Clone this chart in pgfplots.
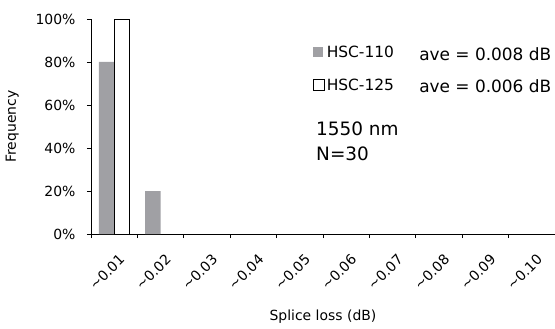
\documentclass[border=0pt]{standalone}
\usepackage{fontspec}
\setmainfont{DejaVu Sans}
\usepackage{pgfplots}
\pgfplotsset{compat=1.18}
\definecolor{barg}{RGB}{160,160,164}
\begin{document}
\begin{tikzpicture}
\begin{axis}[
  scale only axis, width=464bp, height=215bp,
  xmin=-0.5, xmax=9.5, ymin=0, ymax=100,
  axis x line*=bottom, axis y line*=left,
  axis line style={line width=0.9bp, black},
  tick style={line width=0.9bp, black},
  tick align=inside, major tick length=4bp,
  y tick style={xshift=-4bp},
  xtick={-0.5,0.5,...,9.5},
  x tick label as interval,
  xticklabels={\textasciitilde0.01,\textasciitilde0.02,\textasciitilde0.03,\textasciitilde0.04,\textasciitilde0.05,\textasciitilde0.06,\textasciitilde0.07,\textasciitilde0.08,\textasciitilde0.09,\textasciitilde0.10},
  xticklabel style={yshift=-15bp, xshift=4bp, rotate=45, anchor=north east, font=\fontsize{14}{16}\selectfont, inner sep=0bp},
  ytick={0,20,...,100},
  yticklabels={0\%,20\%,40\%,60\%,80\%,100\%},
  yticklabel style={font=\fontsize{14}{16}\selectfont, xshift=-12bp},
  ylabel={Frequency},
  ylabel style={font=\fontsize{14}{16}\selectfont, at={(axis description cs:-0.17,0.5)}, anchor=center},
  xlabel={Splice loss (dB)},
  xlabel style={font=\fontsize{14}{16}\selectfont, at={(axis description cs:0.5,-0.385)}, anchor=center},
  ybar, bar width=0.33,
  legend style={draw=none, fill=none, at={(axis description cs:0.478,0.885)}, anchor=north west,
    font=\fontsize{15.5}{17}\selectfont, row sep=16bp, inner sep=0pt, nodes={inner sep=2bp}},
  legend cell align=left,
]
\addplot[fill=barg, draw=none, bar shift=-0.167,
  legend image code/.code={\draw[/tikz/.cd,fill=barg,draw=none] (0bp,-5bp) rectangle (10bp,5bp);}]
  coordinates {(0,80) (1,20)};
\addlegendentry{HSC-110}
\addplot[fill=white, draw=black, line width=0.9bp, bar shift=0.167,
  legend image code/.code={\draw[/tikz/.cd,fill=white,draw=black,line width=0.8bp] (0bp,-5.5bp) rectangle (11bp,5.5bp);}]
  coordinates {(0,100)};
\addlegendentry{HSC-125}
\node[anchor=base west, font=\fontsize{17}{19}\selectfont, inner sep=0pt] at (axis description cs:0.707,0.805) {ave = 0.008 dB};
\node[anchor=base west, font=\fontsize{17}{19}\selectfont, inner sep=0pt] at (axis description cs:0.707,0.658) {ave = 0.006 dB};
\node[anchor=base west, font=\fontsize{18.5}{21}\selectfont, inner sep=0pt, align=left] at (axis description cs:0.485,0.456) {1550 nm};
\node[anchor=base west, font=\fontsize{18.5}{21}\selectfont, inner sep=0pt, align=left] at (axis description cs:0.485,0.344) {N=30};
\end{axis}
\pgfresetboundingbox
\path[use as bounding box] ([xshift=-91bp,yshift=-95bp]current axis.south west) rectangle ([yshift=19bp]current axis.north east);
\end{tikzpicture}
\end{document}
